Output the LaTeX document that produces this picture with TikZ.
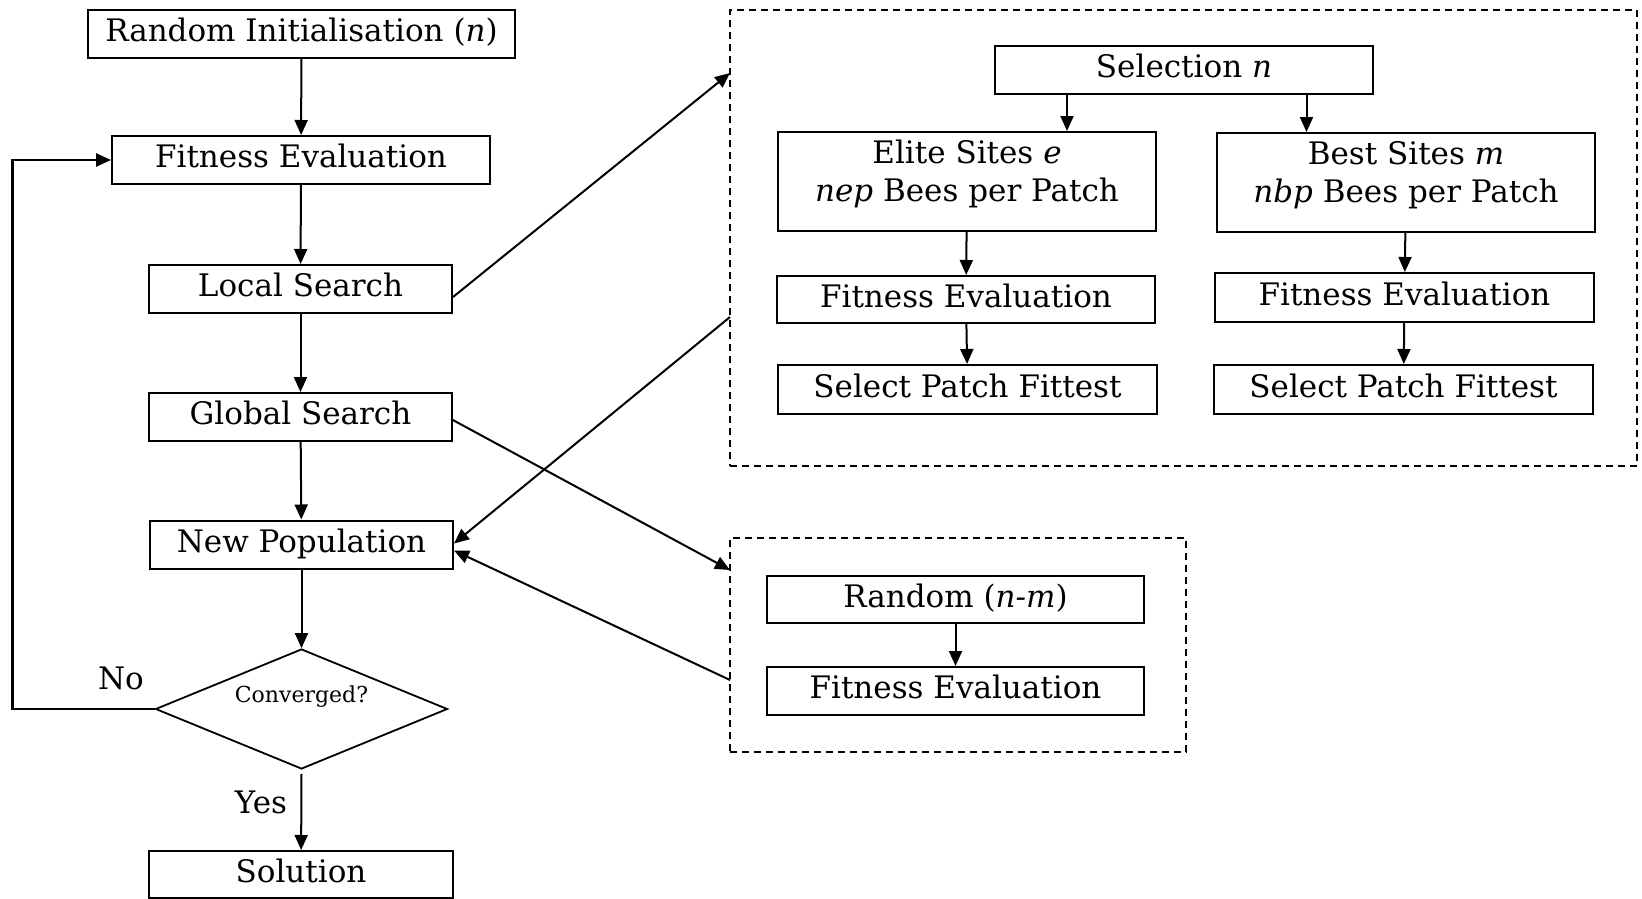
\documentclass[tikz,border=0pt]{standalone}
\usepackage{fontspec}
\setmainfont{DejaVu Serif}
\usetikzlibrary{arrows.meta,shapes.geometric}
\begin{document}
\begin{tikzpicture}[x=1pt,y=-1pt,
  box/.style={draw, line width=2pt, inner sep=0pt, minimum height=48pt, font=\fontsize{31}{38}\selectfont, align=center, text height=23pt, text depth=8pt},
  box2/.style={draw, line width=2pt, inner sep=0pt, minimum height=99pt, font=\fontsize{31}{38}\selectfont, align=center, text depth=21pt},
  arr/.style={line width=2pt, -{Triangle[length=15pt,width=13pt]}},
  dbox/.style={draw, dash pattern=on 7pt off 5pt, line width=1.4pt, inner sep=0pt},
  lbl/.style={font=\fontsize{31}{36}\selectfont, inner sep=0pt}]
\useasboundingbox (0,0) rectangle (1642,899);

% left column
\node[box, minimum width=427pt] (ri) at (301.5,34) {Random Initialisation (\textit{n})};
\node[box, minimum width=378pt] (fe) at (301,160) {Fitness Evaluation};
\node[box, minimum width=303pt] (ls) at (300.5,289) {Local Search};
\node[box, minimum width=303pt] (gs) at (300.5,417) {Global Search};
\node[box, minimum width=303pt] (np) at (301.5,544.5) {New Population};
\node[draw, diamond, line width=1.8pt, minimum width=292pt, minimum height=120pt, inner sep=0pt,
      label={[font=\fontsize{22}{24}\selectfont, inner sep=0pt, yshift=12pt]center:Converged?}] (cv) at (301.5,709) {};
\node[box, minimum width=304pt, minimum height=47pt] (so) at (301,874.5) {Solution};
\node[lbl] (no) at (121,678) {No};
\node[lbl] (yes) at (261,802) {Yes};

% dashed containers
\node[dbox, minimum width=907pt, minimum height=456pt] (big) at (1183.5,238) {};
\node[dbox, minimum width=456pt, minimum height=214pt] (small) at (958,645) {};

% right panel
\node[box, minimum width=378pt] (sel) at (1184,70) {Selection \textit{n}};
\node[box2, minimum width=378pt] (el) at (967,181.5) {Elite Sites \textit{e}\\\textit{nep} Bees per Patch};
\node[box2, minimum width=378pt] (be) at (1406,182.5) {Best Sites \textit{m}\\\textit{nbp} Bees per Patch};
\node[box, minimum width=378pt, minimum height=47pt] (fel) at (966,299.5) {Fitness Evaluation};
\node[box, minimum width=379pt, minimum height=49pt] (fer) at (1404.5,297.5) {Fitness Evaluation};
\node[box, minimum width=379pt, minimum height=49pt] (spl) at (967.5,389.5) {Select Patch Fittest};
\node[box, minimum width=379pt, minimum height=49pt] (spr) at (1403.5,389.5) {Select Patch Fittest};
\node[box, minimum width=377pt, minimum height=47pt] (rnm) at (955.5,599.5) {Random (\textit{n-m})};
\node[box, minimum width=377pt, minimum height=48pt] (fes) at (955.5,691) {Fitness Evaluation};

% coordinates on containers
\coordinate (bigin) at (730,73);
\coordinate (bigout) at (730,317);
\coordinate (smin) at (730,570);
\coordinate (smout) at (730,680);
\coordinate (loopx) at (12.5,709);

% left column arrows
\draw[arr] (ri) -- (fe);
\draw[arr] (fe) -- (ls);
\draw[arr] (ls) -- (gs);
\draw[arr] (gs) -- (np);
\draw[arr] (np) -- (cv);
\draw[arr] ([yshift=-4pt]cv.south) -- (so);
\draw[arr, line width=2.4pt] (cv.west) -- (loopx) |- (fe.west);

% cross connectors
\draw[arr] ([yshift=-8pt]ls.east) -- (bigin);
\draw[arr] ([xshift=-2pt,yshift=-2pt]gs.east) -- (smin);
\draw[arr] (bigout) -- ([yshift=1pt]np.east);
\draw[arr] (smout) -- ([yshift=-6pt]np.east);

% right panel arrows
\draw[arr] ([xshift=-117pt]sel.south) -- ([xshift=-117pt]sel.south |- el.north);
\draw[arr] ([xshift=122.5pt]sel.south) -- ([xshift=122.5pt]sel.south |- be.north);
\draw[arr] (el) -- (fel);
\draw[arr] (fel) -- (spl);
\draw[arr] (be) -- (fer);
\draw[arr] (fer) -- (spr);
\draw[arr] (rnm) -- (fes);
\end{tikzpicture}
\end{document}
